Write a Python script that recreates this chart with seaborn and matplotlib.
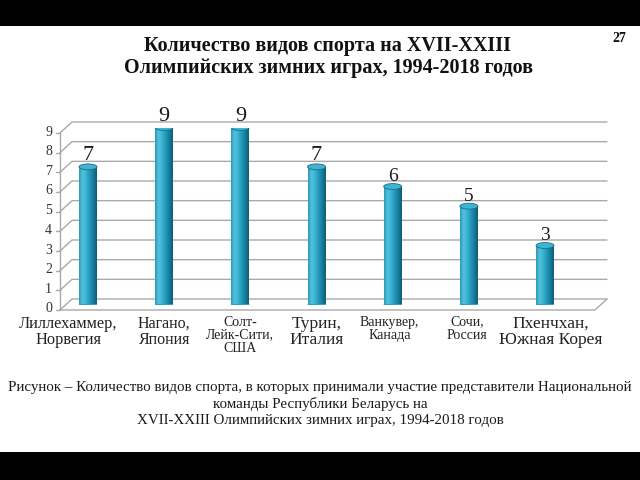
import numpy as np
import pandas as pd
import matplotlib
matplotlib.use("Agg")
import matplotlib.pyplot as plt
import seaborn as sns
from matplotlib.patches import Rectangle, Ellipse
from matplotlib.transforms import ScaledTranslation, IdentityTransform
from matplotlib.colors import LinearSegmentedColormap

# ---- data ----
categories = ["Лиллехаммер,\nНорвегия", "Нагано,\nЯпония", "Солт-\nЛейк-Сити,\nСША",
              "Турин,\nИталия", "Ванкувер,\nКанада", "Сочи,\nРоссия", "Пхенчхан,\nЮжная Корея"]
values = [7, 9, 9, 7, 6, 5, 3]
y_ticks = [0, 1, 2, 3, 4, 5, 6, 7, 8, 9]
title = "Количество видов спорта на XVII-XXIII\nОлимпийских зимних играх, 1994-2018 годов"
caption = ("Рисунок – Количество видов спорта, в которых принимали участие представители Национальной\n"
           "команды Республики Беларусь на\n"
           "XVII-XXIII Олимпийских зимних играх, 1994-2018 годов")
page_number = "27"

# ---- style ----
sns.set_style("white")
plt.rcParams["font.family"] = ["Liberation Serif", "DejaVu Serif"]

W, H = 640, 480
fig = plt.figure(figsize=(6.4, 4.8), dpi=100)
fig.patch.set_facecolor("white")


def frac(l, t, r, b):
    return [l / W, 1 - b / H, (r - l) / W, (b - t) / H]


ax = fig.add_axes(frac(66, 127.5, 601, 304.5))
ax.patch.set_alpha(0)

df = pd.DataFrame({"cat": categories, "val": values})
sns.barplot(data=df, x="cat", y="val", ax=ax, color="#2aa3c3", width=0.236,
            saturation=1, zorder=3, linewidth=0)
ax.set_ylim(0, 9)
ax.set_xlim(-0.289, 6.735)

# cylinder shading
cmap = LinearSegmentedColormap.from_list(
    "cyl", ["#2a9cbc", "#55c2dd", "#3ab2d0", "#2298b9", "#167c9a", "#0f5d75"])
grad = np.linspace(0, 1, 64).reshape(1, -1)
cap_h = 0.3
bars = list(ax.patches)
for p in bars:
    x0, y0, w, h = p.get_x(), p.get_y(), p.get_width(), p.get_height()
    im = ax.imshow(grad, extent=[x0, x0 + w, y0, y0 + h], aspect="auto", cmap=cmap,
                   zorder=3.1, interpolation="bilinear")
    im.set_clip_path(p)
    ax.add_patch(Ellipse((x0 + w / 2, y0), w, cap_h, facecolor="#1e88a8",
                         edgecolor="none", zorder=2.9))
    ax.add_patch(Ellipse((x0 + w / 2, y0 + h), w, cap_h, facecolor="#3fb4d2",
                         edgecolor="#1a6d86", linewidth=0.6, zorder=3.3))
    fs = 16 if h >= 7 else 14
    ax.annotate(f"{int(h)}", (x0 + w / 2, y0 + h), xytext=(0, 1), textcoords="offset points",
                ha="center", va="bottom", fontsize=fs, color="#1a1a1a", zorder=5)

ax.set_ylim(0, 9)
ax.set_xlim(-0.289, 6.735)
ax.set_yticks([])
ax.set_xlabel("")
ax.set_ylabel("")
for s in ax.spines.values():
    s.set_visible(False)

# category labels
ax.set_xticks(range(len(categories)))
ax.set_xticklabels(categories)
label_sizes = [11.8, 11.5, 10, 12.5, 10, 10, 12.5]
label_shift_px = [-20, 0, 0, 0, -3, -2, 6]
ax.tick_params(axis="x", length=0, pad=8)
for lab, fs, sh in zip(ax.get_xticklabels(), label_sizes, label_shift_px):
    lab.set_fontsize(fs)
    lab.set_linespacing(1.0)
    lab.set_multialignment("center")
    lab.set_color("#222222")
    lab.set_transform(lab.get_transform() + ScaledTranslation(sh / 100, 0, fig.dpi_scale_trans))

# 3D-like walls / grid in pixel coordinates
dx, dy = 6.0, 5.5
ytr = ax.get_yaxis_transform()
ident = IdentityTransform()
gc = "#a9a9a9"
for k in y_ticks:
    lx, ly = ytr.transform((0, k))
    rx, _ = ytr.transform((1, k))
    ax.plot([lx - dx, lx + dx, rx + dx], [ly - dy, ly + dy, ly + dy], color=gc, lw=1.0,
            transform=ident, clip_on=False, zorder=1)
    ax.plot([lx - dx - 4, lx - dx], [ly - dy, ly - dy], color=gc, lw=1.0,
            transform=ident, clip_on=False, zorder=1)
    ax.text(lx - dx - 8, ly - dy + 1, str(k), transform=ident, ha="right", va="center",
            fontsize=10, color="#333333")
x0p, y0p = ytr.transform((0, 0))
x1p, _ = ytr.transform((1, 0))
_, y9p = ytr.transform((0, 9))
ax.plot([x0p - dx, x0p - dx], [y0p - dy, y9p - dy], color=gc, lw=1.0,
        transform=ident, clip_on=False, zorder=1)
ax.plot([x0p - dx, x1p - dx, x1p + dx], [y0p - dy, y0p - dy, y0p + dy], color=gc, lw=1.0,
        transform=ident, clip_on=False, zorder=1)

# title, page number, caption
fig.text(328 / W, 1 - 57 / H, title, ha="center", va="center", fontsize=14.5,
         fontweight="bold", linespacing=1.08, color="#111111")
fig.text(619 / W, 1 - 38 / H, page_number, ha="center", va="center", fontsize=10,
         fontweight="bold", color="#111111")
fig.text(320 / W, 1 - 404 / H, caption, ha="center", va="center", fontsize=10.8,
         linespacing=1.33, color="#1a1a1a")

# black bands
fig.patches.append(Rectangle((0, 1 - 26 / H), 1, 26 / H, transform=fig.transFigure,
                             facecolor="black", edgecolor="none", zorder=10))
fig.patches.append(Rectangle((0, 0), 1, 28 / H, transform=fig.transFigure,
                             facecolor="black", edgecolor="none", zorder=10))

fig.savefig("out.png", dpi=100)
